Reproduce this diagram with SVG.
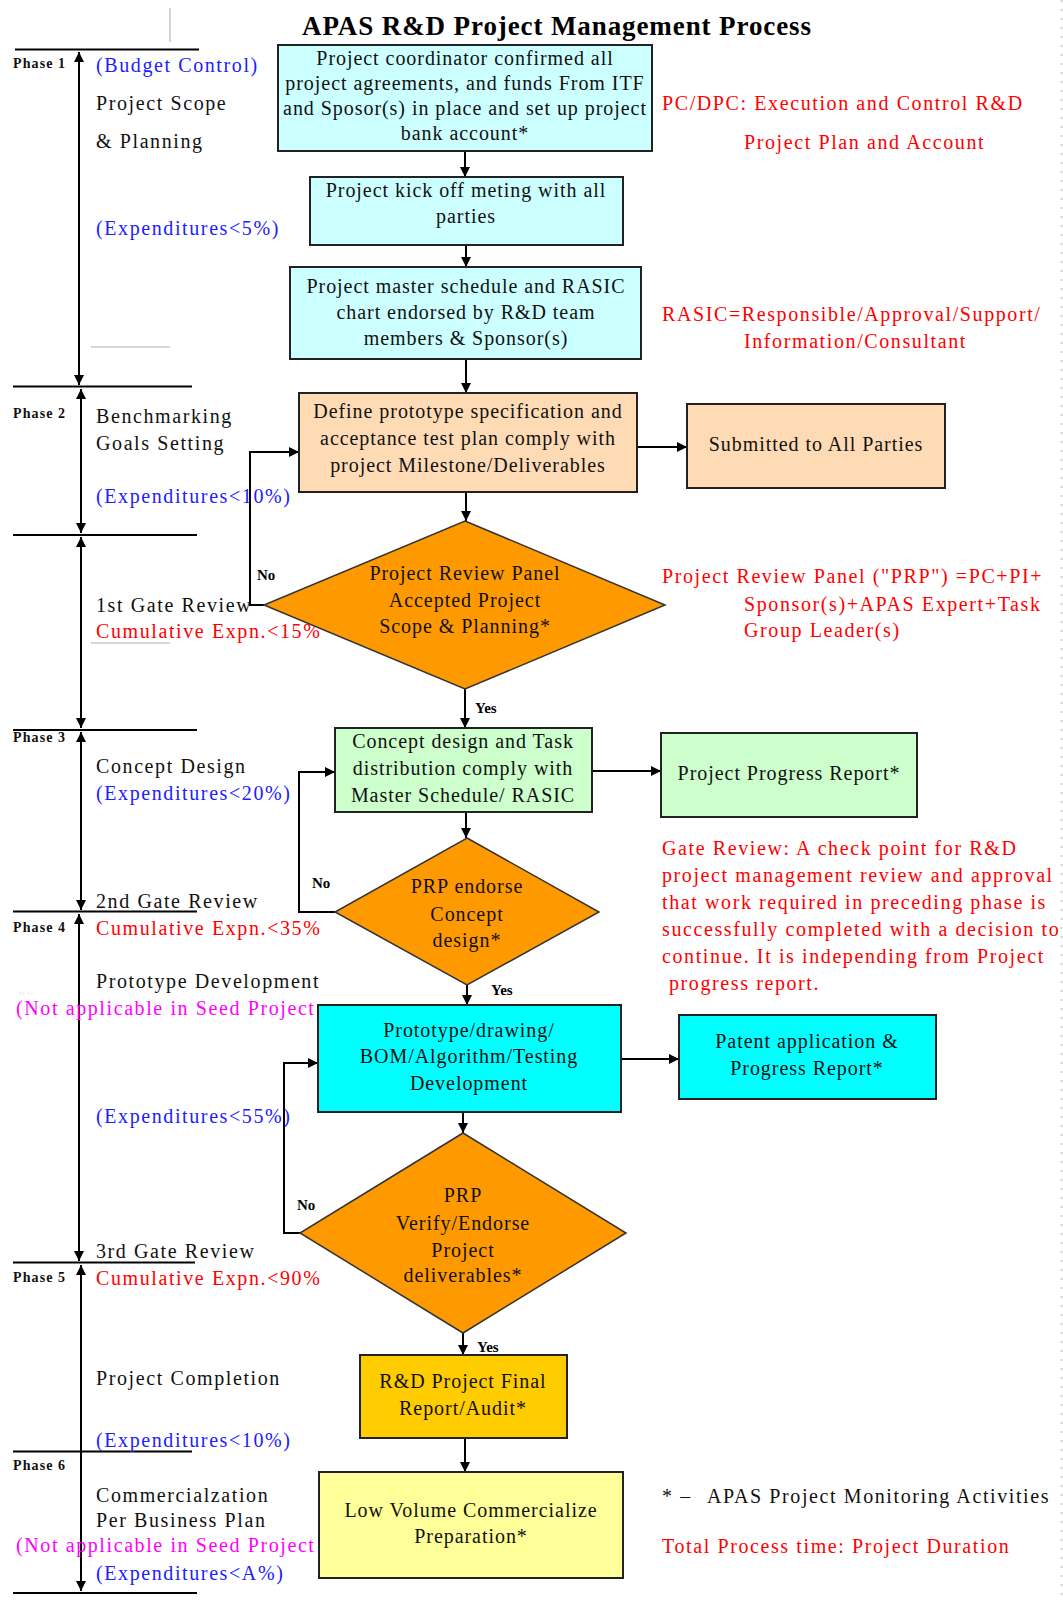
<svg xmlns="http://www.w3.org/2000/svg" width="1063" height="1601" viewBox="0 0 1063 1601">
<style>
.bg{fill:#ffffff}
.box{stroke:#222;stroke-width:2}
.dia{stroke:#333;stroke-width:1.5;fill:#ff9900}
.bt{font-family:"Liberation Serif","Times New Roman",serif;font-size:20px;letter-spacing:0.95px;text-anchor:middle;fill:#111}
.lt{font-family:"Liberation Serif","Times New Roman",serif;font-size:20px;letter-spacing:1.6px;fill:#111}
.ttl{font-family:"Liberation Serif","Times New Roman",serif;font-size:27px;font-weight:bold;letter-spacing:0.9px;fill:#000}
.blue{fill:#2020ff}
.red{fill:#ff0000}
.mag{fill:#ff00ff}
.ph{font-family:"Liberation Serif","Times New Roman",serif;font-size:14px;font-weight:bold;letter-spacing:1.1px;fill:#111}
.yn{font-family:"Liberation Serif","Times New Roman",serif;font-size:15px;font-weight:bold;fill:#000}
.conn{stroke:#000;stroke-width:2;fill:none;marker-end:url(#ah)}
.pl{stroke:#000;stroke-width:2}
.pa{stroke:#000;stroke-width:2;marker-start:url(#pah);marker-end:url(#pah)}
.gray{stroke:#c8c8c8;stroke-width:1.5}
</style>
<defs>
<marker id="ah" viewBox="0 0 10 10" refX="10" refY="5" markerWidth="11" markerHeight="10" markerUnits="userSpaceOnUse" orient="auto"><path d="M0,0 L10,5 L0,10 z" fill="#000"/></marker>
<marker id="pah" viewBox="0 0 10 10" refX="10" refY="5" markerWidth="12" markerHeight="10" markerUnits="userSpaceOnUse" orient="auto-start-reverse"><path d="M0,0 L10,5 L0,10 z" fill="#000"/></marker>
</defs>
<rect class="bg" x="0" y="0" width="1063" height="1601"/>
<line x1="1061.5" y1="0" x2="1061.5" y2="1601" stroke="#c8c8c8" stroke-width="1.5" stroke-dasharray="2 7"/>

<text class="ttl" x="302" y="35">APAS R&amp;D Project Management Process</text>

<g id="phase-axis">
<line class="gray" x1="170" y1="8" x2="170" y2="42"/>
<line class="gray" x1="91" y1="347" x2="170" y2="347"/>
<line class="gray" x1="91" y1="643" x2="170" y2="643"/>
<line class="pl" x1="15" y1="49.5" x2="199" y2="49.5"/>
<line class="pl" x1="13" y1="386.5" x2="192" y2="386.5"/>
<line class="pl" x1="13" y1="535" x2="197" y2="535"/>
<line class="pl" x1="13" y1="730" x2="197" y2="730"/>
<line class="pl" x1="13" y1="911.5" x2="197" y2="911.5"/>
<line class="pl" x1="13" y1="1262.5" x2="195" y2="1262.5"/>
<line class="pl" x1="13" y1="1451.5" x2="192" y2="1451.5"/>
<line class="pl" x1="13" y1="1593" x2="197" y2="1593"/>
<line class="pa" x1="79" y1="52" x2="79" y2="385"/>
<line class="pa" x1="81" y1="389" x2="81" y2="533"/>
<line class="pa" x1="81" y1="537" x2="81" y2="728"/>
<line class="pa" x1="81" y1="732" x2="81" y2="910"/>
<line class="pa" x1="79" y1="914" x2="79" y2="1261"/>
<line class="pa" x1="81" y1="1265" x2="81" y2="1591"/>
<text class="ph" x="13" y="68">Phase 1</text>
<text class="ph" x="13" y="418">Phase 2</text>
<text class="ph" x="13" y="742">Phase 3</text>
<text class="ph" x="13" y="932">Phase 4</text>
<text class="ph" x="13" y="1282">Phase 5</text>
<text class="ph" x="13" y="1470">Phase 6</text>
</g>

<g id="phase-labels">
<text class="lt blue" x="96" y="72">(Budget Control)</text>
<text class="lt" x="96" y="110">Project Scope</text>
<text class="lt" x="96" y="148">&amp; Planning</text>
<text class="lt blue" x="96" y="235">(Expenditures&lt;5%)</text>
<text class="lt" x="96" y="423">Benchmarking</text>
<text class="lt" x="96" y="450">Goals Setting</text>
<text class="lt blue" x="96" y="503">(Expenditures&lt;10%)</text>
<text class="lt" x="96" y="612">1st Gate Review</text>
<text class="lt red" x="96" y="638">Cumulative Expn.&lt;15%</text>
<text class="lt" x="96" y="773">Concept Design</text>
<text class="lt blue" x="96" y="800">(Expenditures&lt;20%)</text>
<text class="lt" x="96" y="908">2nd Gate Review</text>
<text class="lt red" x="96" y="935">Cumulative Expn.&lt;35%</text>
<text class="lt" x="96" y="988">Prototype Development</text>
<text class="lt mag" x="16" y="1015">(Not applicable in Seed Project</text>
<text class="lt blue" x="96" y="1123">(Expenditures&lt;55%)</text>
<text class="lt" x="96" y="1258">3rd Gate Review</text>
<text class="lt red" x="96" y="1285">Cumulative Expn.&lt;90%</text>
<text class="lt" x="96" y="1385">Project Completion</text>
<text class="lt blue" x="96" y="1447">(Expenditures&lt;10%)</text>
<text class="lt" x="96" y="1502">Commercialzation</text>
<text class="lt" x="96" y="1527">Per Business Plan</text>
<text class="lt mag" x="16" y="1552">(Not applicable in Seed Project</text>
<text class="lt blue" x="96" y="1580">(Expenditures&lt;A%)</text>
</g>

<g id="notes">
<text class="lt red" x="662" y="110">PC/DPC: Execution and Control R&amp;D</text>
<text class="lt red" x="744" y="149">Project Plan and Account</text>
<text class="lt red" x="662" y="321">RASIC=Responsible/Approval/Support/</text>
<text class="lt red" x="744" y="348">Information/Consultant</text>
<text class="lt red" x="662" y="583">Project Review Panel ("PRP") =PC+PI+</text>
<text class="lt red" x="744" y="611">Sponsor(s)+APAS Expert+Task</text>
<text class="lt red" x="744" y="637">Group Leader(s)</text>
<text class="lt red" x="662" y="855">Gate Review: A check point for R&amp;D</text>
<text class="lt red" x="662" y="882">project management review and approval</text>
<text class="lt red" x="662" y="909">that work required in preceding phase is</text>
<text class="lt red" x="662" y="936">successfully completed with a decision to</text>
<text class="lt red" x="662" y="963">continue. It is independing from Project</text>
<text class="lt red" x="669" y="990">progress report.</text>
<text class="lt" x="662" y="1503">* –</text>
<text class="lt" x="707" y="1503">APAS Project Monitoring Activities</text>
<text class="lt red" x="662" y="1553">Total Process time: Project Duration</text>
</g>

<g id="connectors">
<line class="conn" x1="465" y1="151" x2="465" y2="177"/>
<line class="conn" x1="466" y1="245" x2="466" y2="267"/>
<line class="conn" x1="466" y1="359" x2="466" y2="393"/>
<line class="conn" x1="637" y1="447" x2="687" y2="447"/>
<line class="conn" x1="466" y1="492" x2="466" y2="521"/>
<polyline class="conn" points="264,605 250,605 250,452 299,452"/>
<line class="conn" x1="465" y1="689" x2="465" y2="728"/>
<line class="conn" x1="592" y1="771" x2="661" y2="771"/>
<line class="conn" x1="466" y1="812" x2="466" y2="838"/>
<polyline class="conn" points="335,912 299,912 299,772 335,772"/>
<line class="conn" x1="467" y1="985" x2="467" y2="1005"/>
<line class="conn" x1="621" y1="1059" x2="679" y2="1059"/>
<line class="conn" x1="463" y1="1112" x2="463" y2="1133"/>
<polyline class="conn" points="300,1233 284,1233 284,1063 318,1063"/>
<line class="conn" x1="463" y1="1333" x2="463" y2="1355"/>
<line class="conn" x1="465" y1="1438" x2="465" y2="1472"/>
<text class="yn" x="257" y="580">No</text>
<text class="yn" x="475" y="713">Yes</text>
<text class="yn" x="312" y="888">No</text>
<text class="yn" x="491" y="995">Yes</text>
<text class="yn" x="297" y="1210">No</text>
<text class="yn" x="477" y="1352">Yes</text>
</g>

<g id="n1">
<rect class="box" x="278" y="45" width="374" height="106" fill="#ccffff"/>
<text class="bt" x="465" y="65">Project coordinator confirmed all</text>
<text class="bt" x="465" y="90">project agreements, and funds From ITF</text>
<text class="bt" x="465" y="115">and Sposor(s) in place and set up project</text>
<text class="bt" x="465" y="140">bank account*</text>
</g>
<g id="n2">
<rect class="box" x="310" y="177" width="313" height="68" fill="#ccffff"/>
<text class="bt" x="466" y="197">Project kick off meting with all</text>
<text class="bt" x="466" y="223">parties</text>
</g>
<g id="n3">
<rect class="box" x="290" y="267" width="351" height="92" fill="#ccffff"/>
<text class="bt" x="466" y="293">Project master schedule and RASIC</text>
<text class="bt" x="466" y="319">chart endorsed by R&amp;D team</text>
<text class="bt" x="466" y="345">members &amp; Sponsor(s)</text>
</g>
<g id="n4">
<rect class="box" x="299" y="393" width="338" height="99" fill="#ffdbb5"/>
<text class="bt" x="468" y="418">Define prototype specification and</text>
<text class="bt" x="468" y="445">acceptance test plan comply with</text>
<text class="bt" x="468" y="472">project Milestone/Deliverables</text>
</g>
<g id="n5">
<rect class="box" x="687" y="404" width="258" height="84" fill="#ffdbb5"/>
<text class="bt" x="816" y="451">Submitted to All Parties</text>
</g>
<g id="d1">
<polygon class="dia" points="465,521 665,605 465,689 264,605"/>
<text class="bt" x="465" y="580">Project Review Panel</text>
<text class="bt" x="465" y="607">Accepted Project</text>
<text class="bt" x="465" y="633">Scope &amp; Planning*</text>
</g>
<g id="n6">
<rect class="box" x="335" y="728" width="257" height="84" fill="#ccffcc"/>
<text class="bt" x="463" y="748">Concept design and Task</text>
<text class="bt" x="463" y="775">distribution comply with</text>
<text class="bt" x="463" y="802">Master Schedule/ RASIC</text>
</g>
<g id="n7">
<rect class="box" x="661" y="733" width="256" height="84" fill="#ccffcc"/>
<text class="bt" x="789" y="780">Project Progress Report*</text>
</g>
<g id="d2">
<polygon class="dia" points="467,838 599,912 467,985 335,912"/>
<text class="bt" x="467" y="893">PRP endorse</text>
<text class="bt" x="467" y="921">Concept</text>
<text class="bt" x="467" y="947">design*</text>
</g>
<g id="n8">
<rect class="box" x="318" y="1005" width="303" height="107" fill="#00ffff"/>
<text class="bt" x="469" y="1037">Prototype/drawing/</text>
<text class="bt" x="469" y="1063">BOM/Algorithm/Testing</text>
<text class="bt" x="469" y="1090">Development</text>
</g>
<g id="n9">
<rect class="box" x="679" y="1015" width="257" height="84" fill="#00ffff"/>
<text class="bt" x="807" y="1048">Patent application &amp;</text>
<text class="bt" x="807" y="1075">Progress Report*</text>
</g>
<g id="d3">
<polygon class="dia" points="463,1133 626,1233 463,1333 300,1233"/>
<text class="bt" x="463" y="1202">PRP</text>
<text class="bt" x="463" y="1230">Verify/Endorse</text>
<text class="bt" x="463" y="1257">Project</text>
<text class="bt" x="463" y="1282">deliverables*</text>
</g>
<g id="n10">
<rect class="box" x="360" y="1355" width="207" height="83" fill="#ffcc00"/>
<text class="bt" x="463" y="1388">R&amp;D Project Final</text>
<text class="bt" x="463" y="1415">Report/Audit*</text>
</g>
<g id="n11">
<rect class="box" x="319" y="1472" width="304" height="106" fill="#ffff99"/>
<text class="bt" x="471" y="1517">Low Volume Commercialize</text>
<text class="bt" x="471" y="1543">Preparation*</text>
</g>
</svg>
